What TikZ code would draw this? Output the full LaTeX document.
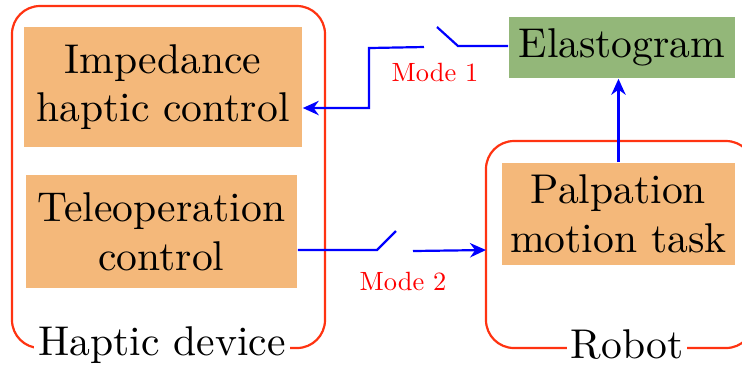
\documentclass[tikz,border=0pt]{standalone}
\usepackage{graphicx}
\usetikzlibrary{arrows.meta}
\definecolor{boxorange}{HTML}{F4B87A}
\definecolor{boxgreen}{HTML}{93B779}
\definecolor{frame}{HTML}{FF3311}
\newcommand{\modetext}[1]{\scalebox{0.66}{\fontsize{10}{12}\selectfont #1}}
\begin{document}
\begin{tikzpicture}[x=0.25pt,y=-0.25pt,
  block/.style={inner sep=0pt,align=center,font=\fontsize{10.4}{12.2}\selectfont},
  group/.style={draw=frame,line width=0.55pt,rounded corners=7pt},
  grouplabel/.style={fill=white,inner sep=1pt,font=\fontsize{10.4}{12}\selectfont},
  link/.style={draw=blue,line width=0.55pt},
  arr/.style={link,-{Stealth[length=4pt,width=3.6pt]}},
  mode/.style={text=red,inner sep=1pt}]
\useasboundingbox (0,0) rectangle (742,369);
\begin{scope}
\clip (0,0) rectangle (742,369);
\draw[group] (12,6) rectangle (325,348);
\draw[group] (486,141) rectangle (754,348);
\end{scope}
\node[grouplabel] (hlabel) at (162,345) {Haptic device};
\node[grouplabel] (rlabel) at (627,345) {Robot};
\node[block,fill=boxorange,minimum width=69.5pt,minimum height=30pt] (imp) at (163,87) {Impedance\\haptic control};
\node[block,fill=boxorange,minimum width=67.75pt,minimum height=28.25pt] (tele) at (161.5,231.5) {Teleoperation\\control};
\node[block,fill=boxgreen,minimum width=56.5pt,minimum height=15.25pt] (elast) at (622,47.5) {Elastogram};
\node[block,fill=boxorange,minimum width=58.25pt,minimum height=25.5pt] (palp) at (618.5,214) {Palpation\\motion task};
\coordinate (robotleft) at (486,250);
% palpation -> elastogram
\draw[arr] (palp.north) -- (palp.north |- elast.south);
% mode 1 switch
\coordinate (s1a) at (458,46);
\coordinate (s1b) at (437,27);
\coordinate (s1c) at (424,47);
\coordinate (s1d) at (369,48);
\draw[link] (elast.west |- s1a) -- (s1a) -- (s1b);
\draw[arr] (s1c) -- (s1d) -- (369,108) -- (imp.east |- 0,108);
\node[mode] (m1) at (435,72) {\modetext{Mode 1}};
% mode 2 switch
\coordinate (s2a) at (377,250);
\coordinate (s2b) at (396,231);
\coordinate (s2c) at (413,251);
\draw[link] (tele.east |- s2a) -- (s2a) -- (s2b);
\draw[arr] (s2c) -- (robotleft);
\node[mode] (m2) at (403,281) {\modetext{Mode 2}};
\end{tikzpicture}
\end{document}
